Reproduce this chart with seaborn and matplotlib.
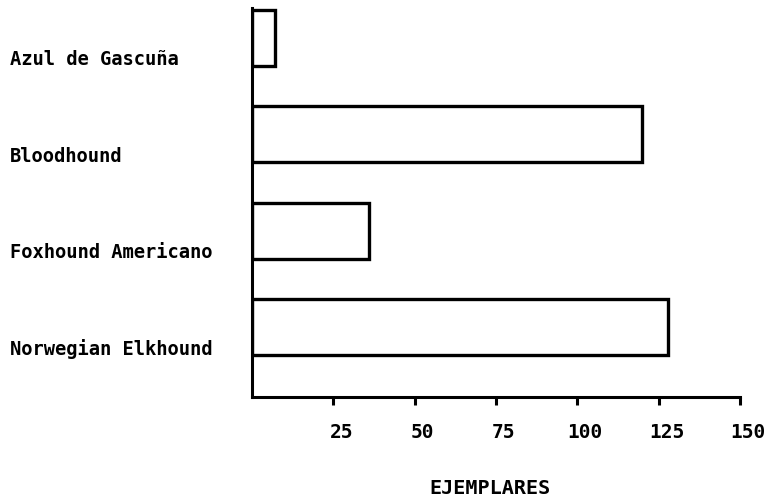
import matplotlib
matplotlib.use("Agg")
import matplotlib.pyplot as plt
import seaborn as sns
import pandas as pd
from matplotlib.transforms import ScaledTranslation

breeds = ["Azul de Gascuña", "Bloodhound", "Foxhound Americano", "Norwegian Elkhound"]
ejemplares = [7, 120, 36, 128]
xticks = [25, 50, 75, 100, 125, 150]
xtick_labels = ["25", "50", "75", "100", "125", "150"]
xlabel = "EJEMPLARES"

sns.set_theme(style="white")
plt.rcParams["font.family"] = ["DejaVu Sans Mono"]

fig = plt.figure(figsize=(7.66, 5), dpi=100)
ax = fig.add_axes([0.329, 0.206, 0.637, 0.778])

df = pd.DataFrame({"breed": breeds, "n": ejemplares})
sns.barplot(data=df, x="n", y="breed", orient="h", color="white",
            edgecolor="black", linewidth=2.4, width=0.58, ax=ax)

ax.set_xlim(0, 150)
ax.set_ylim(3.727, -0.31)
sns.despine(ax=ax)
for s in ["left", "bottom"]:
    ax.spines[s].set_linewidth(2.2)
    ax.spines[s].set_color("black")

ax.set_xticks(xticks, xtick_labels)
ax.tick_params(axis="x", bottom=True, direction="out", length=6, width=2.2,
               color="black", pad=13, labelsize=14, labelcolor="black")
ax.set_yticks(range(len(breeds)), breeds, ha="left")
ax.tick_params(axis="y", left=False, length=0, pad=174, labelsize=13.5,
               labelcolor="black")

for lbl in ax.get_yticklabels():
    lbl.set_fontweight("bold")
    lbl.set_transform(lbl.get_transform() + ScaledTranslation(0, -0.20, fig.dpi_scale_trans))
for lbl in ax.get_xticklabels():
    lbl.set_fontweight("bold")
    lbl.set_transform(lbl.get_transform() + ScaledTranslation(0.08, 0, fig.dpi_scale_trans))

ax.set_ylabel("")
ax.set_xlabel(xlabel, fontsize=14.5, color="black", va="center", fontweight="bold")
ax.xaxis.set_label_coords(0.488, -0.234)

fig.savefig("out.png", dpi=100, facecolor="white")
